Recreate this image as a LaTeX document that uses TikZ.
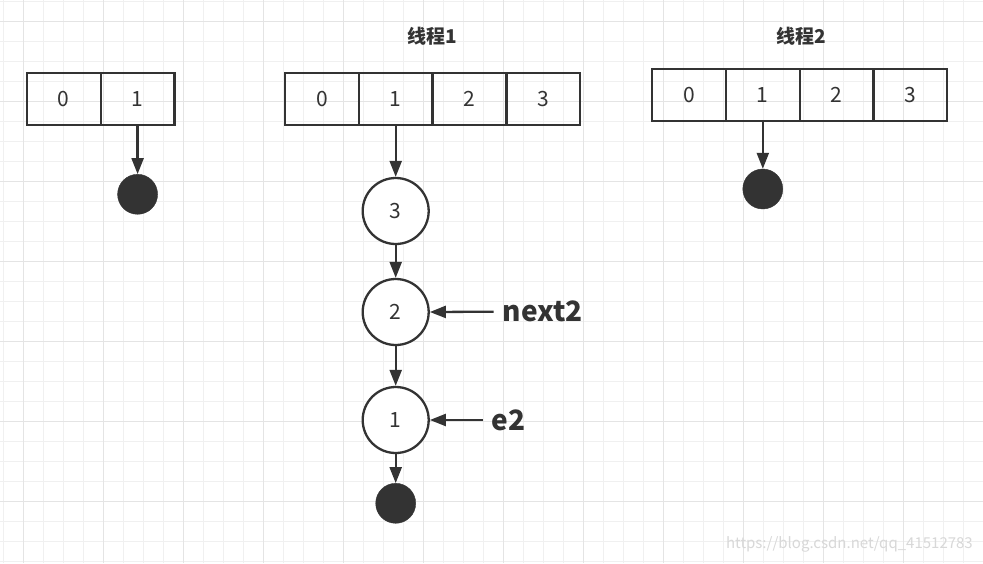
\documentclass[tikz,border=0pt]{standalone}
\usepackage{fontspec}
\newfontfamily\cjk{Noto Sans CJK SC}
\usetikzlibrary{arrows.meta}
\definecolor{ink}{HTML}{333333}
\definecolor{gridminor}{HTML}{F0F0F0}
\definecolor{gridmajor}{HTML}{E4E4E4}
\definecolor{wm}{HTML}{D8D8D8}
\tikzset{
  cellbox/.style={draw=ink, line width=2.3pt, minimum width=73.8pt, minimum height=52.5pt, inner sep=0pt, font=\cjk\fontsize{21}{24}\selectfont, text=ink},
  ringnode/.style={circle, draw=ink, line width=2.3pt, fill=white, minimum size=66pt, inner sep=0pt, font=\cjk\fontsize{21}{24}\selectfont, text=ink},
  dotnode/.style={circle, fill=ink, draw=ink, minimum size=40pt, inner sep=0pt},
  titletext/.style={font=\cjk\bfseries\fontsize{19}{22}\selectfont, text=ink},
  labeltext/.style={font=\cjk\bfseries\fontsize{28}{31}\selectfont, text=ink, inner sep=0pt, anchor=west},
  arr/.style={draw=ink, line width=2.3pt, -{Triangle[length=16pt,width=12pt]}}
}
\begin{document}
\begin{tikzpicture}[x=1pt,y=-1pt]
\useasboundingbox (0,0) rectangle (983,563);
\fill[white] (0,0) rectangle (983,563);
% grid
\foreach \k in {0,...,49} {
  \draw[gridminor, line width=1pt] ({3.3+20*\k},0) -- ({3.3+20*\k},563);
}
\foreach \k in {0,...,28} {
  \draw[gridminor, line width=1pt] (0,{1.7+20*\k}) -- (983,{1.7+20*\k});
}
\foreach \k in {0,...,12} {
  \draw[gridmajor, line width=1pt] ({23.3+80*\k},0) -- ({23.3+80*\k},563);
}
\foreach \k in {0,...,6} {
  \draw[gridmajor, line width=1pt] (0,{21.7+80*\k}) -- (983,{21.7+80*\k});
}
% left array
\node[cellbox] (l0) at (63.8,99) {0};
\node[cellbox] (l1) at (137.6,99) {1};
\node[dotnode] (ldot) at (137.6,194.3) {};
\draw[arr] (l1.south) -- (ldot.north);
% thread 1
\node[titletext] (t1) at (432.5,36) {线程1};
\node[cellbox] (m0) at (321.9,99) {0};
\node[cellbox] (m1) at (395.7,99) {1};
\node[cellbox] (m2) at (469.5,99) {2};
\node[cellbox] (m3) at (543.3,99) {3};
\node[ringnode] (c3) at (395.7,211) {3};
\node[ringnode] (c2) at (395.7,312) {2};
\node[ringnode] (c1) at (395.7,420) {1};
\node[dotnode] (mdot) at (395.7,503.3) {};
\draw[arr] (m1.south) -- (c3.north);
\draw[arr] (c3.south) -- (c2.north);
\draw[arr] (c2.south) -- (c1.north);
\draw[arr] (c1.south) -- (mdot.north);
\node[labeltext] (lnext) at (502.5,311.7) {next2};
\node[labeltext] (le) at (491.5,420) {e2};
\draw[arr] ([xshift=-9pt]lnext.west) -- (c2.east);
\draw[arr] ([xshift=-8.5pt]le.west) -- (c1.east);
% thread 2
\node[titletext] (t2) at (801.7,36) {线程2};
\node[cellbox, minimum height=51.7pt] (r0) at (689,94.9) {0};
\node[cellbox, minimum height=51.7pt] (r1) at (762.8,94.9) {1};
\node[cellbox, minimum height=51.7pt] (r2) at (836.6,94.9) {2};
\node[cellbox, minimum height=51.7pt] (r3) at (910.4,94.9) {3};
\node[dotnode] (rdot) at (762.8,189) {};
\draw[arr] (r1.south) -- (rdot.north);
% watermark
\node[font=\cjk\fontsize{15}{18}\selectfont, text=wm, anchor=east, inner sep=0pt] (wmark) at (973,544) {https://blog.csdn.net/qq\_41512783};
\end{tikzpicture}
\end{document}
